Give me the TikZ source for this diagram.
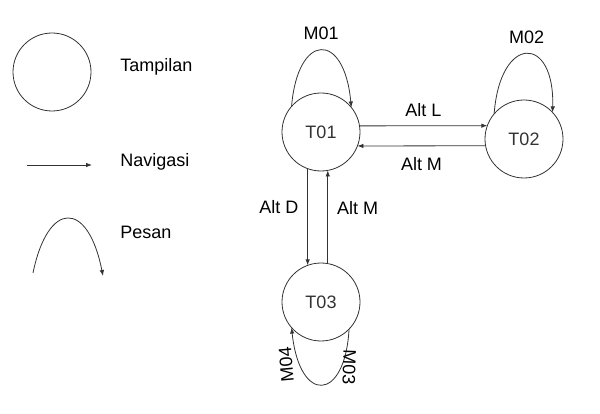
\documentclass[tikz,border=0pt]{standalone}
\usepackage{fontspec}
\setmainfont{Liberation Sans}
\usetikzlibrary{arrows.meta, positioning}

\begin{document}
\begin{tikzpicture}[x=1pt, y=-1pt, line width=0.8pt, black!80,
    font=\fontsize{18}{20}\selectfont,
    main/.style = {draw, circle, minimum size=78pt, inner sep=0pt, outer sep=0pt},
    nav/.style = {-{Latex[length=6pt,width=4.5pt]}},
    lbl/.style = {inner sep=0pt, text=black}]
    \useasboundingbox (0,0) rectangle (600,414);

    % legenda
    \node[main] (tamp) at (52,72) {};
    \node[lbl, anchor=base west] (ltamp) at (120,72) {Tampilan};
    \coordinate (nav1) at (27,165);
    \coordinate (nav2) at (92,165);
    \draw[nav] (nav1) -- (nav2);
    \node[lbl, anchor=base west] (lnav) at (120,167) {Navigasi};
    \coordinate (psn1) at (33,273);
    \coordinate (psn2) at (103,276);
    \draw[nav] (psn1) .. controls (48,200) and (88,200) .. (psn2);
    \node[lbl, anchor=base west] (lpsn) at (120,239) {Pesan};

    % tampilan
    \node[main] (t01) at (321,132) {T01};
    \node[main] (t02) [right=125pt of t01, yshift=-7pt] {T02};
    \node[main] (t03) [below=92pt of t01] {T03};

    % navigasi
    \path[nav]
    (t01.9) edge node[lbl, above=9pt] {Alt L} (t02.160)
    (t02.190) edge node[lbl, below=11pt] {Alt M} (t01.-21)

    (t01.250) edge node[lbl, pos=0.4, left=9pt] {Alt D} (t03.110)
    (t03.80) edge node[lbl, pos=0.6, right=9pt] {Alt M} (t01.280)
    ;

    % pesan
    \draw[nav] (t01.139) .. controls +(6,-74) and +(-7,-77) .. node[lbl, above=10pt] {M01} (t01.39);
    \draw[nav] (t02.140) .. controls +(6,-80) and +(2.5,-78) .. node[lbl, above=9.5pt] {M02} (t02.43);
    \draw[nav] (t03.-44) .. controls +(-4,73) and +(8,77) ..
        node[lbl, pos=0.22, xshift=8pt, rotate=-92] {M03}
        node[lbl, pos=0.8, xshift=-14pt, rotate=95] {M04} (t03.221);
\end{tikzpicture}
\end{document}
